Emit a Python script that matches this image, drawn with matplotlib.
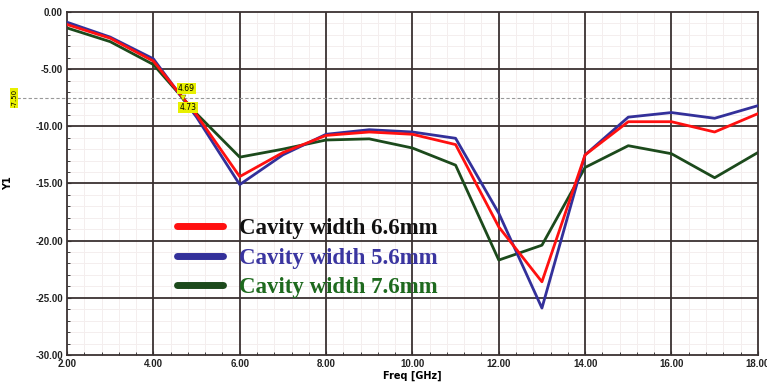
import matplotlib.pyplot as plt
import numpy as np
from matplotlib.ticker import MultipleLocator

# Frequency sweep points (GHz) and Y1 (dB) for the three cavity widths
freq = [2, 3, 4, 5, 6, 7, 8, 9, 10, 11, 12, 13, 14, 15, 16, 17, 18]
y_66 = [-1.1, -2.3, -4.3, -9.0, -14.4, -12.3, -10.8, -10.5, -10.7, -11.6,
        -18.8, -23.6, -12.5, -9.6, -9.6, -10.5, -8.9]
y_56 = [-0.9, -2.2, -4.1, -9.2, -15.1, -12.5, -10.7, -10.3, -10.5, -11.05,
        -17.6, -25.9, -12.5, -9.2, -8.8, -9.3, -8.2]
y_76 = [-1.4, -2.6, -4.6, -8.9, -12.7, -12.0, -11.2, -11.1, -11.9, -13.4,
        -21.7, -20.4, -13.6, -11.7, -12.4, -14.5, -12.3]
labels = ['Cavity width 6.6mm', 'Cavity width 5.6mm', 'Cavity width 7.6mm']

marker_y = -7.5
marker_x = [4.69, 4.73]

fig = plt.figure(figsize=(7.67, 3.85), dpi=100)
ax = fig.add_axes([0.0874, 0.078, 0.9006, 0.891])

red, blue, green = '#ff1010', '#33309a', '#1c4a1c'
l1, = ax.plot(freq, y_66, color=red, lw=2.0, zorder=4)
l2, = ax.plot(freq, y_56, color=blue, lw=2.0, zorder=3)
l3, = ax.plot(freq, y_76, color=green, lw=2.0, zorder=2)

ax.set_xlim(2, 18)
ax.set_ylim(-30, 0)
ax.xaxis.set_major_locator(MultipleLocator(2))
ax.xaxis.set_minor_locator(MultipleLocator(0.4))
ax.yaxis.set_major_locator(MultipleLocator(5))
ax.yaxis.set_minor_locator(MultipleLocator(1))

# faint minor grid underneath, dark major grid drawn on top of it
ax.grid(which='minor', color='#f4eeee', lw=0.7, zorder=0)
for x in np.arange(4, 18, 2):
    ax.axvline(x, color='#3a3232', lw=1.3, zorder=1)
for y in np.arange(-25, 0, 5):
    ax.axhline(y, color='#3a3232', lw=1.3, zorder=1)
ax.set_axisbelow(True)
for s in ax.spines.values():
    s.set_color('#3a3232')
    s.set_linewidth(1.3)

ax.xaxis.set_major_formatter(lambda v, p: f'{v:.2f}')
ax.yaxis.set_major_formatter(lambda v, p: f'{v:.2f}')
ax.tick_params(which='both', direction='in', labelsize=7, colors='#222222',
               length=3, pad=3)
ax.tick_params(which='minor', length=2)
for t in ax.get_xticklabels() + ax.get_yticklabels():
    t.set_fontweight('bold')
    t.set_fontfamily('Liberation Sans')
ax.set_xlabel('Freq [GHz]', fontsize=7, fontweight='bold', labelpad=1)
ax.set_ylabel('Y1', fontsize=7, fontweight='bold', labelpad=16)

# marker line at -7.50 dB
ax.axhline(marker_y, color='#999999', lw=0.8, ls=(0, (3, 2)), zorder=1)
ax.plot([0.85, 2], [marker_y, marker_y], color='#999999', lw=0.8,
        ls=(0, (3, 2)), clip_on=False)
ax.text(0.78, marker_y, f'{marker_y:.2f}', rotation=90, fontsize=5,
        ha='center', va='center', clip_on=False,
        bbox=dict(boxstyle='square,pad=0.15', fc='#e8f000', ec='none'))
ax.text(marker_x[0] + 0.07, marker_y + 0.8, f'{marker_x[0]:.2f}', fontsize=5.5,
        ha='center', va='center', zorder=6,
        bbox=dict(boxstyle='square,pad=0.15', fc='#e8f000', ec='none'))
ax.text(marker_x[1] + 0.07, marker_y - 0.85, f'{marker_x[1]:.2f}', fontsize=5.5,
        ha='center', va='center', zorder=6,
        bbox=dict(boxstyle='square,pad=0.15', fc='#e8f000', ec='none'))
ax.plot([marker_x[0]], [marker_y], marker='v', ms=4, color='#e8f000',
        mec='#555500', mew=0.3, zorder=6)

leg = ax.legend([l1, l2, l3], labels, loc='upper left',
                bbox_to_anchor=(0.13, 0.46), frameon=False,
                prop={'family': 'Liberation Serif', 'weight': 'bold', 'size': 16.5},
                labelcolor=['#111111', '#3a35a0', '#1e6a1e'],
                handlelength=2.0, handletextpad=0.7, labelspacing=0.38)
for h in leg.get_lines():
    h.set_linewidth(5)
    h.set_solid_capstyle('round')

fig.savefig('out.png', dpi=100)
